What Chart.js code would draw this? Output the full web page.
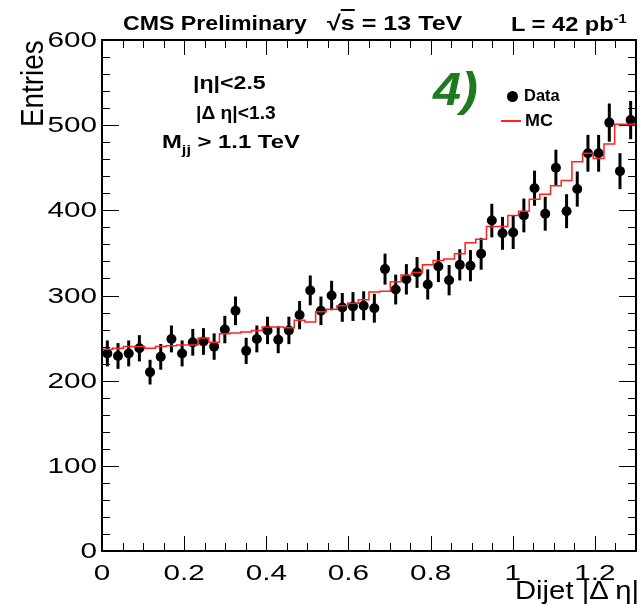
<!DOCTYPE html>
<html>
<head>
<meta charset="utf-8">
<script src="https://cdn.jsdelivr.net/npm/chart.js@4"></script>
<style>
  html, body { margin: 0; padding: 0; background: #fff; }
  #wrap { position: relative; width: 641px; height: 605px; overflow: hidden; }
  #chart { position: absolute; left: 0; top: 0; }
  .lbl { position: absolute; white-space: nowrap; line-height: 1; font-family: "Liberation Sans", Arial, sans-serif; color: #000; transform-origin: 0 50%; }
  .b { font-weight: bold; }
</style>
</head>
<body>
<div id="wrap">
  <canvas id="chart" width="641" height="605"></canvas>

  <div class="lbl b" data-w="184" style="left:123px; top:12px; font-size:21px;">CMS Preliminary</div>
  <div class="lbl b" data-w="135" style="left:327px; top:12px; font-size:21px;">√<span style="text-decoration:overline">s</span> = 13 TeV</div>
  <div class="lbl b" data-w="116" style="left:511px; top:12px; font-size:21px;">L = 42 pb<span style="font-size:13px; vertical-align:8px;">-1</span></div>

  <div class="lbl b" data-w="73" style="left:193px; top:73px; font-size:19px;">|η|&lt;2.5</div>
  <div class="lbl b" data-w="80" style="left:196px; top:103px; font-size:19px;">|Δ η|&lt;1.3</div>
  <div class="lbl b" data-w="138" style="left:162px; top:132px; font-size:19px;">M<span style="font-size:13px; vertical-align:-6px;">jj</span> &gt; 1.1 TeV</div>

  <div class="lbl b" data-w="45" style="left:433px; top:66px; font-size:46px; font-style:italic; color:#1d7a1d;">4)</div>

  <div style="position:absolute; left:507px; top:91px; width:11px; height:11px; border-radius:50%; background:#000;"></div>
  <div class="lbl b" data-w="36" style="left:524px; top:88px; font-size:16px;">Data</div>
  <div style="position:absolute; left:501px; top:120px; width:20px; height:2px; background:#ff2020;"></div>
  <div class="lbl b" data-w="28" style="left:525px; top:113px; font-size:16px;">MC</div>

  <div class="lbl" data-w="124" style="left:515px; top:578px; font-size:25px;">Dijet |Δ η|</div>
  <div id="ytitle" class="lbl" style="left:16px; top:127px; font-size:32px; transform-origin:0 0;">Entries</div>
</div>

<script>
// ==== DỮ LIỆU ====
const binCenters = [
  0.013, 0.039, 0.065, 0.091, 0.117, 0.143, 0.169, 0.195, 0.221, 0.247,
  0.273, 0.299, 0.325, 0.351, 0.377, 0.403, 0.429, 0.455, 0.481, 0.507,
  0.533, 0.559, 0.585, 0.611, 0.637, 0.663, 0.689, 0.715, 0.741, 0.767,
  0.793, 0.819, 0.845, 0.871, 0.897, 0.923, 0.949, 0.975, 1.001, 1.027,
  1.053, 1.079, 1.105, 1.131, 1.157, 1.183, 1.209, 1.235, 1.261, 1.287
];
const binHalfWidth = 0.013;

const dataCounts = [
  232, 229, 232, 238, 210, 228, 249, 232, 245, 246,
  240, 260, 282, 235, 249, 259, 248, 259, 277, 306,
  282, 300, 286, 287, 288, 285, 331, 307, 319, 327,
  313, 334, 318, 336, 335, 349, 388, 373, 374, 394,
  426, 396, 450, 399, 425, 467, 467, 503, 446, 506
];

const mcCounts = [
  237, 237, 238, 240, 240, 238, 240, 241, 242, 242,
  250, 245, 255, 256, 257, 259, 263, 263, 262, 271,
  269, 281, 284, 288, 291, 295, 304, 305, 316, 324,
  327, 336, 341, 343, 349, 362, 366, 381, 381, 394,
  399, 413, 419, 429, 435, 457, 467, 461, 478, 501
];

const xTickLabels = [0, 0.2, 0.4, 0.6, 0.8, 1, 1.2];
const yTickLabels = [0, 100, 200, 300, 400, 500, 600];

// ==== HÀM TIỆN ÍCH ====
function isMajor(v, list) {
  return list.some((m) => Math.abs(m - v) < 1e-6);
}

// kéo giãn chữ cho khớp bề rộng trong hình gốc
document.querySelectorAll(".lbl[data-w]").forEach((el) => {
  const k = Number(el.dataset.w) / el.offsetWidth;
  el.style.transform = "scaleX(" + k + ")";
});
const yt = document.getElementById("ytitle");
yt.style.transform = "rotate(-90deg) scaleX(" + 87 / yt.offsetWidth + ")";

// ==== PLUGIN: thanh sai số, khung, vạch chia, nhãn trục ====
const errorBars = {
  id: "errorBars",
  beforeDatasetsDraw(chart) {
    const ctx = chart.ctx;
    const xs = chart.scales.x, ys = chart.scales.y;
    ctx.save();
    ctx.strokeStyle = "#000";
    ctx.lineWidth = 3;
    dataCounts.forEach((n, i) => {
      const err = Math.sqrt(n);
      const px = xs.getPixelForValue(binCenters[i]);
      ctx.beginPath();
      ctx.moveTo(px, ys.getPixelForValue(n - err));
      ctx.lineTo(px, ys.getPixelForValue(n + err));
      ctx.stroke();
    });
    ctx.restore();
  }
};

const frameTicks = {
  id: "frameTicks",
  afterDraw(chart) {
    const ctx = chart.ctx;
    const a = chart.chartArea;
    const xs = chart.scales.x, ys = chart.scales.y;
    ctx.save();
    ctx.strokeStyle = "#000";

    ctx.lineWidth = 1;
    ctx.beginPath();
    xs.ticks.forEach((t) => {
      const px = Math.round(xs.getPixelForValue(t.value)) + 0.5;
      const len = isMajor(t.value, xTickLabels) ? 15 : 8;
      ctx.moveTo(px, a.bottom); ctx.lineTo(px, a.bottom - len);
      ctx.moveTo(px, a.top); ctx.lineTo(px, a.top + len);
    });
    ys.ticks.forEach((t) => {
      const py = Math.round(ys.getPixelForValue(t.value)) + 0.5;
      const len = isMajor(t.value, yTickLabels) ? 17 : 8;
      ctx.moveTo(a.left, py); ctx.lineTo(a.left + len, py);
      ctx.moveTo(a.right, py); ctx.lineTo(a.right - len, py);
    });
    ctx.stroke();

    ctx.lineWidth = 2;
    ctx.strokeRect(a.left, a.top, a.right - a.left, a.bottom - a.top);

    // nhãn trục
    ctx.fillStyle = "#000";
    ctx.font = '22px "Liberation Sans", Arial, sans-serif';
    ctx.textBaseline = "middle";
    ctx.textAlign = "right";
    yTickLabels.forEach((v) => {
      ctx.save();
      ctx.translate(97, ys.getPixelForValue(v) + 1);
      ctx.scale(1.35, 1);
      ctx.fillText(String(v), 0, 0);
      ctx.restore();
    });
    ctx.textAlign = "center";
    xTickLabels.forEach((v) => {
      ctx.save();
      ctx.translate(xs.getPixelForValue(v), 574);
      ctx.scale(1.35, 1);
      ctx.fillText(String(v), 0, 0);
      ctx.restore();
    });
    ctx.restore();
  }
};

// ==== VẼ BIỂU ĐỒ ====
const mcSteps = binCenters.map((c, i) => ({ x: c - binHalfWidth, y: mcCounts[i] }));
mcSteps.push({ x: binCenters[binCenters.length - 1] + binHalfWidth, y: mcCounts[mcCounts.length - 1] });

const dataPoints = binCenters.map((c, i) => ({ x: c, y: dataCounts[i] }));

new Chart(document.getElementById("chart").getContext("2d"), {
  type: "scatter",
  data: {
    datasets: [
      {
        type: "line",
        label: "MC",
        data: mcSteps,
        stepped: "after",
        borderColor: "#ff2020",
        borderWidth: 1.5,
        pointRadius: 0,
        fill: false
      },
      {
        label: "Data",
        data: dataPoints,
        pointRadius: 5,
        pointBackgroundColor: "#000",
        pointBorderWidth: 0
      }
    ]
  },
  options: {
    responsive: false,
    animation: false,
    layout: { padding: { top: 40, right: 2, left: 0, bottom: 0 } },
    plugins: { legend: { display: false }, tooltip: { enabled: false } },
    scales: {
      x: {
        type: "linear",
        min: 0,
        max: 1.3,
        ticks: { display: false, stepSize: 0.05 },
        grid: { display: false },
        border: { display: false },
        afterFit: (s) => { s.height = 54; }
      },
      y: {
        min: 0,
        max: 600,
        ticks: { display: false, stepSize: 20 },
        grid: { display: false },
        border: { display: false },
        afterFit: (s) => { s.width = 102; }
      }
    }
  },
  plugins: [errorBars, frameTicks]
});
</script>
</body>
</html>
